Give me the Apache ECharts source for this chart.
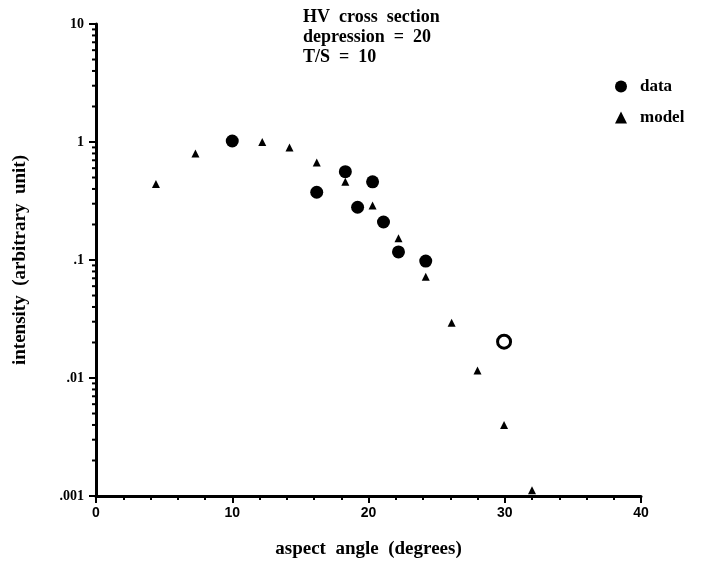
<!DOCTYPE html>
<html><head><meta charset="utf-8">
<script src="https://cdn.jsdelivr.net/npm/echarts@6/dist/echarts.min.js"></script>
<style>html,body{margin:0;padding:0;background:#fff}#c{width:706px;height:564px}</style>
</head><body><div id="c"></div>
<script>
// measured data (circles)
const dataX = [10.0, 16.2, 18.3, 19.2, 20.3, 21.1, 22.2, 24.2, 29.95];
const dataY = [1.02, 0.375, 0.56, 0.28, 0.46, 0.21, 0.117, 0.098, 0.0203];
// model (triangles)
const modelX = [4.4, 7.3, 12.2, 14.2, 16.2, 18.3, 20.3, 22.2, 24.2, 26.1, 28.0, 29.95, 32.0];
const modelY = [0.44, 0.80, 1.0, 0.90, 0.67, 0.46, 0.29, 0.153, 0.072, 0.0294, 0.0116, 0.0040, 0.00112];
const openIndex = 8; // data point drawn as open circle
const xTicks = [0, 10, 20, 30, 40];
const yTickLabels = {'-3': '.001', '-2': '.01', '-1': '.1', '0': '1', '1': '10'};
const titleLines = ['HV  cross  section', 'depression  =  20', 'T/S  =  10'];

const serif = '"Liberation Serif","DejaVu Serif",serif';
const chart = echarts.init(document.getElementById('c'), null, {renderer: 'canvas'});

const dataSeries = dataX.map((x, i) => {
  const p = {value: [x, dataY[i]]};
  if (i === openIndex) p.itemStyle = {color: '#fff', borderColor: '#000', borderWidth: 3, opacity: 1};
  return p;
});
const modelSeries = modelX.map((x, i) => [x, modelY[i]]);

chart.setOption({
  animation: false,
  backgroundColor: '#fff',
  title: {
    text: titleLines.join('\n'), left: 298, top: 2,
    textStyle: {fontFamily: serif, fontWeight: 'bold', fontSize: 18, color: '#000', lineHeight: 20}
  },
  legend: {
    orient: 'vertical', left: 610, top: 73, itemGap: 14, itemWidth: 12, itemHeight: 12,
    textStyle: {fontFamily: serif, fontWeight: 'bold', fontSize: 17, color: '#000', padding: [0, 0, 0, 8]},
    itemStyle: {opacity: 1},
    data: [{name: 'data', icon: 'circle'}, {name: 'model', icon: 'triangle'}]
  },
  grid: {left: 96, right: 65, top: 24, bottom: 65},
  xAxis: {
    type: 'value', min: 0, max: 40, interval: 10,
    name: 'aspect  angle  (degrees)', nameLocation: 'middle', nameGap: 44,
    nameTextStyle: {fontFamily: serif, fontWeight: 'bold', fontSize: 19, color: '#000'},
    axisLine: {lineStyle: {color: '#000', width: 3}},
    axisTick: {length: 7, lineStyle: {color: '#000', width: 2}},
    minorTick: {show: true, splitNumber: 5, length: 4, lineStyle: {color: '#000', width: 2}},
    axisLabel: {margin: 10, fontFamily: '"Liberation Sans",Arial,sans-serif', fontWeight: 'bold', fontSize: 14, color: '#000',
      formatter: v => xTicks.includes(v) ? String(v) : ''},
    splitLine: {show: false}
  },
  yAxis: {
    type: 'log', logBase: 10, min: 0.001, max: 10,
    name: 'intensity  (arbitrary  unit)', nameLocation: 'middle', nameGap: 66,
    nameTextStyle: {fontFamily: serif, fontWeight: 'bold', fontSize: 19, color: '#000'},
    axisLine: {lineStyle: {color: '#000', width: 3}},
    axisTick: {length: 7, lineStyle: {color: '#000', width: 2}},
    axisLabel: {margin: 12, fontFamily: serif, fontWeight: 'bold', fontSize: 14, color: '#000',
      formatter: v => yTickLabels[String(Math.round(Math.log10(v)))] || ''},
    splitLine: {show: false}
  },
  series: [
    {name: 'data', type: 'scatter', symbol: 'circle', symbolSize: 13, itemStyle: {color: '#000', opacity: 1}, data: dataSeries, z: 3},
    {name: 'model', type: 'scatter', symbol: 'triangle', symbolSize: 8, itemStyle: {color: '#000', opacity: 1}, data: modelSeries, z: 2}
  ]
});

// log minor ticks on the y axis, positioned via the axis scale
const minor = [];
for (let e = -3; e < 1; e++) {
  for (let m = 2; m <= 9; m++) {
    const v = m * Math.pow(10, e);
    const p = chart.convertToPixel({gridIndex: 0}, [0, v]);
    minor.push({type: 'line', shape: {x1: p[0] - 4, y1: p[1], x2: p[0], y2: p[1]}, style: {stroke: '#000', lineWidth: 2}, silent: true});
  }
}
chart.setOption({graphic: minor});
</script></body></html>
